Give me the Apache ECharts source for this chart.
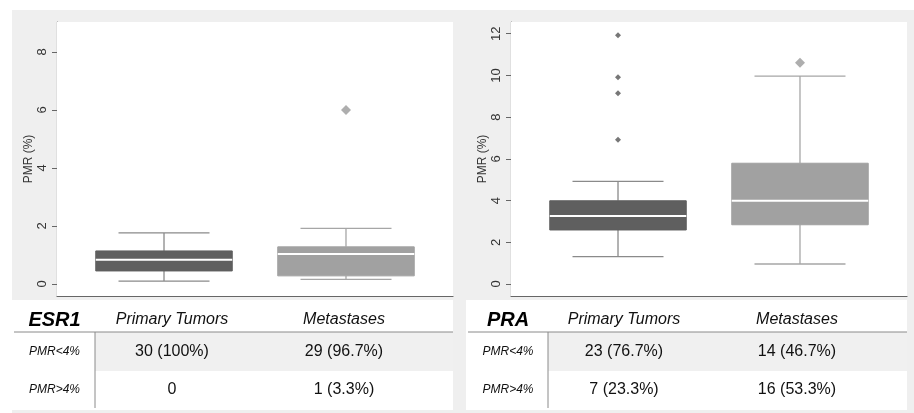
<!DOCTYPE html>
<html>
<head>
<meta charset="utf-8">
<script src="https://cdn.jsdelivr.net/npm/echarts@6/dist/echarts.min.js"></script>
<style>
  html, body { margin: 0; padding: 0; background: #fff; }
  #chart { width: 914px; height: 413px; }
</style>
</head>
<body>
<div id="chart"></div>
<script>
// data
var groups = ['Primary Tumors', 'Metastases'];
var groupPos = [1, 2];

// [min, Q1, median, Q3, max]
var esr1Box = [[0.10, 0.45, 0.84, 1.14, 1.76], [0.16, 0.28, 1.03, 1.28, 1.92]];
var esr1Outliers = [[], [6.0]];
var praBox = [[1.31, 2.59, 3.26, 3.99, 4.92], [0.96, 2.84, 3.99, 5.79, 9.97]];
var praOutliers = [[6.92, 9.14, 9.91, 11.92], [10.61]];

var esr1Ticks = [0, 2, 4, 6, 8];
var praTicks = [0, 2, 4, 6, 8, 10, 12];

var rowLabels = ['PMR<4%', 'PMR>4%'];
var esr1Counts = [['30 (100%)', '29 (96.7%)'], ['0', '1 (3.3%)']];
var praCounts = [['23 (76.7%)', '14 (46.7%)'], ['7 (23.3%)', '16 (53.3%)']];

var FONT = 'Arial, "Liberation Sans", sans-serif';
var boxColors = ['#5f5f5f', '#a1a1a1'];
var whiskerColors = ['#8a8a8a', '#a6a6a6'];
var outlierStyle = [{ color: '#555', size: 6 }, { color: '#9a9a9a', size: 10 }];

var myChart = echarts.init(document.getElementById('chart'));

function renderBox(params, api) {
  var x = api.value(0);
  var lo = api.coord([x, api.value(1)]);
  var q1 = api.coord([x, api.value(2)]);
  var md = api.coord([x, api.value(3)]);
  var q3 = api.coord([x, api.value(4)]);
  var hi = api.coord([x, api.value(5)]);
  var boxW = api.size([0.75, 0])[0];
  var capW = api.size([0.5, 0])[0];
  var gi = params.seriesIndex % 4 === 0 ? 0 : 1;
  var wStyle = { stroke: whiskerColors[gi], lineWidth: 1.3 };
  return {
    type: 'group',
    children: [
      { type: 'line', shape: { x1: hi[0], y1: hi[1], x2: q3[0], y2: q3[1] }, style: wStyle },
      { type: 'line', shape: { x1: lo[0], y1: lo[1], x2: q1[0], y2: q1[1] }, style: wStyle },
      { type: 'line', shape: { x1: hi[0] - capW / 2, y1: hi[1], x2: hi[0] + capW / 2, y2: hi[1] }, style: wStyle },
      { type: 'line', shape: { x1: lo[0] - capW / 2, y1: lo[1], x2: lo[0] + capW / 2, y2: lo[1] }, style: wStyle },
      { type: 'rect', shape: { x: q3[0] - boxW / 2, y: q3[1], width: boxW, height: q1[1] - q3[1] },
        style: { fill: boxColors[gi], stroke: boxColors[gi], lineWidth: 1 } },
      { type: 'line', shape: { x1: md[0] - boxW / 2, y1: md[1], x2: md[0] + boxW / 2, y2: md[1] },
        style: { stroke: '#fff', lineWidth: 2 } }
    ]
  };
}

function panelSeries(boxes, outliers, axisIdx) {
  var out = [];
  groups.forEach(function (g, i) {
    out.push({
      type: 'custom',
      name: g,
      xAxisIndex: axisIdx,
      yAxisIndex: axisIdx,
      renderItem: renderBox,
      encode: { x: 0, y: [1, 2, 3, 4, 5] },
      data: [[groupPos[i]].concat(boxes[i])],
      z: 3
    });
    out.push({
      type: 'scatter',
      name: g + ' outliers',
      xAxisIndex: axisIdx,
      yAxisIndex: axisIdx,
      symbol: 'diamond',
      symbolSize: outlierStyle[i].size,
      itemStyle: { color: outlierStyle[i].color },
      data: outliers[i].map(function (v) { return [groupPos[i], v]; }),
      z: 4
    });
  });
  return out;
}

function yAxisFor(idx, min, max, ticks) {
  return {
    type: 'value',
    gridIndex: idx,
    min: min,
    max: max,
    name: 'PMR (%)',
    nameLocation: 'middle',
    nameGap: 19,
    nameRotate: 90,
    nameTextStyle: { fontFamily: FONT, fontSize: 12, color: '#333' },
    axisLine: { show: true, lineStyle: { color: '#666', width: 1.2 } },
    axisTick: { show: true, length: 5, customValues: ticks, lineStyle: { color: '#666' } },
    axisLabel: { customValues: ticks, rotate: 90, margin: 8, fontFamily: FONT, fontSize: 13, color: '#333' },
    splitLine: { show: true, lineStyle: { color: '#ebebeb', width: 1 } }
  };
}

function xAxisFor(idx) {
  return {
    type: 'value',
    gridIndex: idx,
    min: 0.412,
    max: 2.588,
    axisLine: { show: true, onZero: false, lineStyle: { color: '#666', width: 1.2 } },
    axisTick: { show: false },
    axisLabel: { show: false },
    splitLine: { show: false }
  };
}

// tables drawn as graphic elements
function tableGraphics(left, right, title, counts, divX, colX) {
  var els = [];
  els.push({ type: 'rect', shape: { x: left, y: 300, width: right - left, height: 110 }, style: { fill: '#fff' }, z: 1 });
  els.push({ type: 'rect', shape: { x: divX, y: 332, width: right - divX, height: 39 }, style: { fill: '#f0f0f0' }, z: 2 });
  els.push({ type: 'line', shape: { x1: left + 2, y1: 332, x2: right, y2: 332 }, style: { stroke: '#8a8a8a', lineWidth: 1 }, z: 3 });
  els.push({ type: 'line', shape: { x1: divX, y1: 332, x2: divX, y2: 408 }, style: { stroke: '#8a8a8a', lineWidth: 1 }, z: 3 });
  var labX = (left + divX) / 2 + 1;
  els.push({ type: 'text', x: labX, y: 320, z: 4,
    style: { text: title, fontFamily: FONT, fontSize: 20, fontWeight: 'bold', fontStyle: 'italic', fill: '#000', align: 'center', verticalAlign: 'middle' } });
  groups.forEach(function (g, j) {
    els.push({ type: 'text', x: colX[j], y: 320, z: 4,
      style: { text: g, fontFamily: FONT, fontSize: 16, fontStyle: 'italic', fill: '#111', align: 'center', verticalAlign: 'middle' } });
  });
  var rowY = [352, 390];
  rowLabels.forEach(function (r, i) {
    els.push({ type: 'text', x: labX, y: rowY[i], z: 4,
      style: { text: r, fontFamily: FONT, fontSize: 12, fontStyle: 'italic', fill: '#111', align: 'center', verticalAlign: 'middle' } });
    counts[i].forEach(function (c, j) {
      els.push({ type: 'text', x: colX[j], y: rowY[i], z: 4,
        style: { text: c, fontFamily: FONT, fontSize: 16, fill: '#111', align: 'center', verticalAlign: 'middle' } });
    });
  });
  return els;
}

var graphics = [
  { type: 'rect', shape: { x: 12, y: 10, width: 902, height: 403 }, style: { fill: '#efefef' }, z: 0 },
  // white plot areas behind the two grids
  { type: 'rect', shape: { x: 57, y: 22, width: 396, height: 274 }, style: { fill: '#fff' }, z: 1 },
  { type: 'rect', shape: { x: 511, y: 22, width: 396, height: 274 }, style: { fill: '#fff' }, z: 1 }
];
graphics = graphics.concat(tableGraphics(12, 453, 'ESR1', esr1Counts, 95, [172, 344]));
graphics = graphics.concat(tableGraphics(466, 907, 'PRA', praCounts, 548, [624, 797]));

var option = {
  animation: false,
  backgroundColor: '#fff',
  graphic: { elements: graphics, z: -10, zlevel: 0 },
  grid: [
    { left: 57, top: 22, width: 396, height: 274 },
    { left: 511, top: 22, width: 396, height: 274 }
  ],
  xAxis: [xAxisFor(0), xAxisFor(1)],
  yAxis: [yAxisFor(0, -0.414, 9.034, esr1Ticks), yAxisFor(1, -0.575, 12.56, praTicks)],
  series: panelSeries(esr1Box, esr1Outliers, 0).concat(panelSeries(praBox, praOutliers, 1))
};

myChart.setOption(option);
</script>
</body>
</html>
